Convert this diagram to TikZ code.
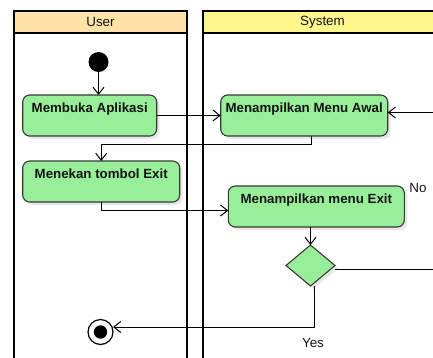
\documentclass[tikz,border=0pt]{standalone}
\usepackage{fontspec}
\setmainfont{Liberation Sans}
\usetikzlibrary{arrows.meta,shapes.geometric,shadows}
\definecolor{actGreen}{HTML}{99EE99}
\definecolor{actLine}{HTML}{383838}
\definecolor{actInk}{HTML}{141414}
\definecolor{userHead}{HTML}{FFE3A8}
\definecolor{sysHead}{HTML}{FFF68E}
\tikzset{
  act diagram/.style={
    x=1pt, y=-1pt, line width=1pt,
    >={Straight Barb[length=7pt,width=11pt]},
    every node/.style={font=\fontsize{13.4}{15}\selectfont,
      text=actInk, inner sep=0pt, outer sep=0pt}
  },
  act lane/.style={draw=black, line width=2pt},
  act box/.style={draw=actLine, fill=actGreen, line width=1.1pt,
    rounded corners=7pt, anchor=north west,
    font=\fontsize{13.3}{15}\selectfont\bfseries,
    minimum height=41pt, text height=17.5pt, text depth=23.5pt,
    drop shadow={opacity=0.18, shadow xshift=3pt, shadow yshift=-3pt}},
  act decision/.style={diamond, draw=actLine, fill=actGreen, line width=1.1pt,
    minimum width=49pt, minimum height=41pt,
    drop shadow={opacity=0.18, shadow xshift=3pt, shadow yshift=-3pt}},
  act start/.style={circle, fill=black, minimum size=20pt},
  act stop/.style={circle, draw=black, fill=white, line width=1.2pt, minimum size=25pt}
}

\begin{document}
\begin{tikzpicture}[act diagram]
  \useasboundingbox (0,0) rectangle (433,357);
  \clip (0,0) rectangle (433,357);

  % swimlanes
  \filldraw[act lane, fill=userHead] (14,11) rectangle (187,33);
  \draw[act lane] (14,33) -- (14,380) (187,33) -- (187,380);
  \filldraw[act lane, fill=sysHead] (203,11) rectangle (442,33);
  \draw[act lane] (203,33) -- (203,380) (442,33) -- (442,380);
  \node (userTitle) at (100.5,22) {User};
  \node (sysTitle) at (322.5,22) {System};

  % activities
  \node[act start] (start) at (98.5,62) {};
  \node[act box, minimum width=134pt] (openApp) at (22.7,95) {Membuka Aplikasi};
  \node[act box, minimum width=167pt] (menuAwal) at (220.7,95) {Menampilkan Menu Awal};
  \node[act box, minimum width=157pt] (pressExit) at (22.7,161) {Menekan tombol Exit};
  \node[act box, minimum width=176pt] (menuExit) at (228.3,186) {Menampilkan menu Exit};
  \node[act decision] (decide) at (310.5,265.5) {};
  \node[act stop] (stop) at (100.5,332) {};
  \fill[black] (stop) circle[radius=6.7];
  \coordinate (loopEdge) at (460,0);

  \node (noLabel) at (418,188) {No};
  \node (yesLabel) at (313,343) {Yes};

  % flows
  \draw[->] (start) -- (start |- openApp.north);
  \draw[->] (openApp.east) -- (menuAwal.west);
  \draw[->] ([xshift=7pt]menuAwal.south) -- ++(0,8) -| (pressExit.north);
  \draw[->] (pressExit.south) |- ([yshift=-4pt]menuExit.west);
  \draw[->] (menuExit.south -| decide.north) -- (decide.north);
  \draw[->] ([yshift=-3.5pt]decide.east) -- ([yshift=-3.5pt]decide.east -| loopEdge)
    |- ([yshift=3pt]menuAwal.east);
  \draw[->] ([xshift=4pt]decide.south) |- ([yshift=5pt]stop.east);
\end{tikzpicture}
\end{document}
